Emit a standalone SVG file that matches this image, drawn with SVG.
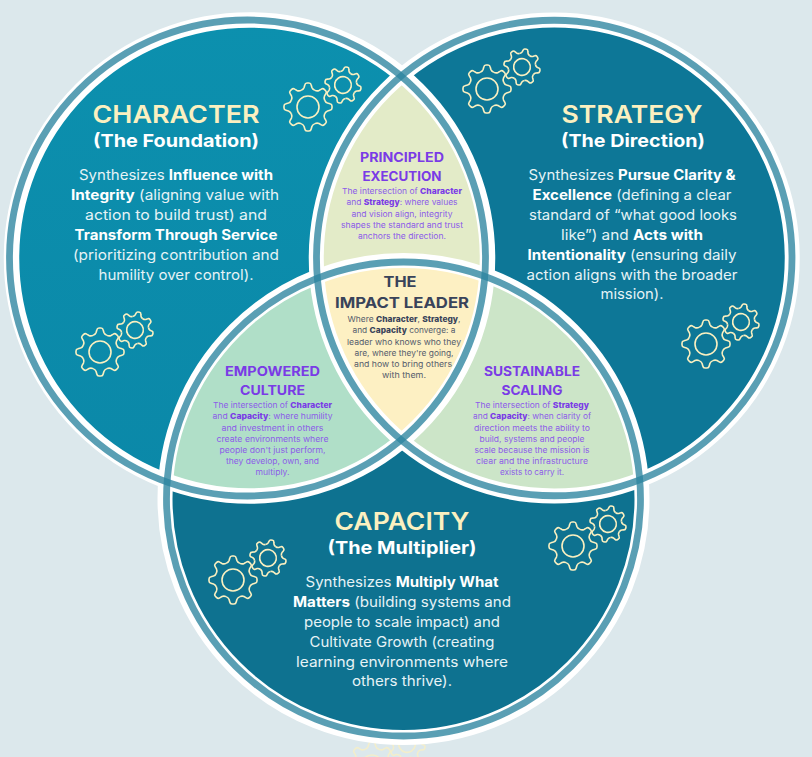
<svg xmlns="http://www.w3.org/2000/svg" width="812" height="757" viewBox="0 0 812 757">
<style>
text{font-family:Inter,"Liberation Sans",sans-serif;text-anchor:middle}
.h{font-size:24.5px;font-weight:600;fill:#fbf0c0}
.s{font-size:18px;font-weight:700;fill:#fff}
.b{font-size:14.2px;font-weight:400;fill:#e6f3f6}
.b tspan{font-weight:700;fill:#fff}
.lh{font-size:13px;font-weight:700;fill:#7a3be6}
.lb{font-size:8.1px;font-weight:400;fill:#8c5ce8}
.lb tspan{font-weight:800;fill:#7a3be6}
.ch{font-size:15px;font-weight:700;fill:#39435a}
.cb{font-size:8.1px;font-weight:400;fill:#555c6c}
.cb tspan{font-weight:800;fill:#39435a}
.tooth,.hub{fill:none;stroke:#fbf0c0;stroke-width:1.6;vector-effect:non-scaling-stroke}
.halo{fill:none;stroke:#fff;stroke-width:15}
.ring{fill:none;stroke:#2c849f;stroke-opacity:.78;stroke-width:6.8}
</style>
<defs>
<path id="t" class="tooth" d="M-6.89 -16.63Q-4.5 -17.6 -3.9 -19.5L-3.2 -22Q-2.8 -24 -1 -24L1 -24Q2.8 -24 3.2 -22L3.9 -19.5Q4.5 -17.6 6.89 -16.63"/>
<g id="gear">
<use href="#t"/><use href="#t" transform="rotate(45)"/><use href="#t" transform="rotate(90)"/><use href="#t" transform="rotate(135)"/><use href="#t" transform="rotate(180)"/><use href="#t" transform="rotate(225)"/><use href="#t" transform="rotate(270)"/><use href="#t" transform="rotate(315)"/>
<circle class="hub" r="11"/>
</g>
<g id="pair">
<use href="#gear"/>
<use href="#gear" transform="translate(35 -22) scale(.76) rotate(12)"/>
</g>
<clipPath id="cA"><circle cx="248.500" cy="258" r="233"/></clipPath>
<clipPath id="cB"><circle cx="554.250" cy="258" r="233"/></clipPath>
<clipPath id="cC"><circle cx="403.500" cy="499" r="233"/></clipPath>
<linearGradient id="ga" x1="0" y1="0" x2="0" y2="1"><stop offset="0" stop-color="#0c90ae"/><stop offset="1" stop-color="#0b88a8"/></linearGradient>
</defs>
<rect width="812" height="757" fill="#dce8ec"/>
<g id="hidden-gears" opacity=".75"><use href="#pair" transform="translate(372 766)"/></g>
<g id="regions">
<circle cx="249.500" cy="258" r="238" fill="url(#ga)"/>
<circle cx="554.250" cy="258" r="238" fill="#0d7797"/>
<circle cx="403.500" cy="499" r="238.500" fill="#0e7290"/>
<g clip-path="url(#cA)"><circle id="lens-top" cx="554.250" cy="258" r="233" fill="#e3ebc8"/></g>
<g clip-path="url(#cA)"><circle id="lens-left" cx="403.500" cy="499" r="233" fill="#b0dfc8"/></g>
<g clip-path="url(#cB)"><circle id="lens-right" cx="403.500" cy="499" r="233" fill="#cce5c8"/></g>
<g clip-path="url(#cA)"><g clip-path="url(#cB)"><circle id="lens-center" cx="403.500" cy="499" r="233" fill="#fdf0c3"/></g></g>
</g>
<g id="halos">
<circle class="halo" cx="249.500" cy="258" r="238" style="stroke-width:15.500"/>
<circle class="halo" cx="554.250" cy="258" r="238"/>
<circle class="halo" cx="403.500" cy="499" r="238.500"/>
</g>
<g id="rings">
<circle class="ring" cx="247.500" cy="258" r="238"/>
<circle class="ring" cx="554.250" cy="258" r="237.750"/>
<circle class="ring" cx="403.500" cy="499" r="237"/>
</g>
<g id="gears">
<use href="#pair" transform="translate(308 107)"/>
<use href="#pair" transform="translate(487 89)"/>
<use href="#pair" transform="translate(100 352)"/>
<use href="#pair" transform="translate(706 344)"/>
<use href="#pair" transform="translate(573 546)"/>
<use href="#pair" transform="translate(233 580)"/>
</g>
<g id="character">
<text class="h" x="176" y="123" textLength="167" lengthAdjust="spacingAndGlyphs">CHARACTER</text>
<text class="s" x="176" y="147" textLength="166" lengthAdjust="spacingAndGlyphs">(The Foundation)</text>
<text class="b" x="176" y="180" textLength="194" lengthAdjust="spacingAndGlyphs">Synthesizes <tspan>Influence with</tspan></text>
<text class="b" x="175" y="200" textLength="208" lengthAdjust="spacingAndGlyphs"><tspan>Integrity</tspan> (aligning value with</text>
<text class="b" x="176" y="220" textLength="182" lengthAdjust="spacingAndGlyphs">action to build trust) and</text>
<text class="b" x="176" y="240" textLength="203" lengthAdjust="spacingAndGlyphs"><tspan>Transform Through Service</tspan></text>
<text class="b" x="176" y="260" textLength="206" lengthAdjust="spacingAndGlyphs">(prioritizing contribution and</text>
<text class="b" x="176" y="280" textLength="155" lengthAdjust="spacingAndGlyphs">humility over control).</text>
</g>
<g id="strategy">
<text class="h" x="632" y="123" textLength="141" lengthAdjust="spacingAndGlyphs">STRATEGY</text>
<text class="s" x="633" y="147" textLength="144" lengthAdjust="spacingAndGlyphs">(The Direction)</text>
<text class="b" x="632" y="180" textLength="207" lengthAdjust="spacingAndGlyphs">Synthesizes <tspan>Pursue Clarity &amp;</tspan></text>
<text class="b" x="632" y="200" textLength="199" lengthAdjust="spacingAndGlyphs"><tspan>Excellence</tspan> (defining a clear</text>
<text class="b" x="633" y="220" textLength="208" lengthAdjust="spacingAndGlyphs">standard of “what good looks</text>
<text class="b" x="632" y="240" textLength="142" lengthAdjust="spacingAndGlyphs">like”) and <tspan>Acts with</tspan></text>
<text class="b" x="632" y="260" textLength="209" lengthAdjust="spacingAndGlyphs"><tspan>Intentionality</tspan> (ensuring daily</text>
<text class="b" x="632" y="280" textLength="211" lengthAdjust="spacingAndGlyphs">action aligns with the broader</text>
<text class="b" x="632" y="299" textLength="63" lengthAdjust="spacingAndGlyphs">mission).</text>
</g>
<g id="capacity">
<text class="h" x="402" y="530" textLength="135" lengthAdjust="spacingAndGlyphs">CAPACITY</text>
<text class="s" x="402" y="554" textLength="149" lengthAdjust="spacingAndGlyphs">(The Multiplier)</text>
<text class="b" x="402" y="587" textLength="193" lengthAdjust="spacingAndGlyphs">Synthesizes <tspan>Multiply What</tspan></text>
<text class="b" x="402" y="607" textLength="218" lengthAdjust="spacingAndGlyphs"><tspan>Matters</tspan> (building systems and</text>
<text class="b" x="402" y="627" textLength="196" lengthAdjust="spacingAndGlyphs">people to scale impact) and</text>
<text class="b" x="402" y="647" textLength="185" lengthAdjust="spacingAndGlyphs">Cultivate Growth (creating</text>
<text class="b" x="402" y="667" textLength="212" lengthAdjust="spacingAndGlyphs">learning environments where</text>
<text class="b" x="402" y="686" textLength="100" lengthAdjust="spacingAndGlyphs">others thrive).</text>
</g>
<g id="principled-execution">
<text class="lh" x="402" y="162" textLength="84" lengthAdjust="spacingAndGlyphs">PRINCIPLED</text>
<text class="lh" x="402" y="181" textLength="79" lengthAdjust="spacingAndGlyphs">EXECUTION</text>
<text class="lb" x="402" y="194" textLength="120" lengthAdjust="spacingAndGlyphs">The intersection of <tspan>Character</tspan></text>
<text class="lb" x="402" y="205" textLength="111" lengthAdjust="spacingAndGlyphs">and <tspan>Strategy</tspan>: where values</text>
<text class="lb" x="402" y="217" textLength="101" lengthAdjust="spacingAndGlyphs">and vision align, integrity</text>
<text class="lb" x="402" y="228" textLength="122" lengthAdjust="spacingAndGlyphs">shapes the standard and trust</text>
<text class="lb" x="402" y="239" textLength="88" lengthAdjust="spacingAndGlyphs">anchors the direction.</text>
</g>
<g id="impact-leader">
<text class="ch" x="400" y="287" textLength="33" lengthAdjust="spacingAndGlyphs">THE</text>
<text class="ch" x="402" y="308" textLength="134" lengthAdjust="spacingAndGlyphs">IMPACT LEADER</text>
<text class="cb" x="404" y="322" textLength="113" lengthAdjust="spacingAndGlyphs">Where <tspan>Character</tspan>, <tspan>Strategy</tspan>,</text>
<text class="cb" x="404" y="333" textLength="103" lengthAdjust="spacingAndGlyphs">and <tspan>Capacity</tspan> converge: a</text>
<text class="cb" x="404" y="345" textLength="114" lengthAdjust="spacingAndGlyphs">leader who knows who they</text>
<text class="cb" x="404" y="356" textLength="99" lengthAdjust="spacingAndGlyphs">are, where they're going,</text>
<text class="cb" x="403" y="367" textLength="98" lengthAdjust="spacingAndGlyphs">and how to bring others</text>
<text class="cb" x="404" y="378" textLength="44" lengthAdjust="spacingAndGlyphs">with them.</text>
</g>
<g id="empowered-culture">
<text class="lh" x="272.500" y="376" textLength="95" lengthAdjust="spacingAndGlyphs">EMPOWERED</text>
<text class="lh" x="272.500" y="395" textLength="65" lengthAdjust="spacingAndGlyphs">CULTURE</text>
<text class="lb" x="272.500" y="408" textLength="119" lengthAdjust="spacingAndGlyphs">The intersection of <tspan>Character</tspan></text>
<text class="lb" x="272.500" y="419" textLength="120" lengthAdjust="spacingAndGlyphs">and <tspan>Capacity</tspan>: where humility</text>
<text class="lb" x="272.500" y="431" textLength="102" lengthAdjust="spacingAndGlyphs">and investment in others</text>
<text class="lb" x="272.500" y="442" textLength="112" lengthAdjust="spacingAndGlyphs">create environments where</text>
<text class="lb" x="272.500" y="453" textLength="106" lengthAdjust="spacingAndGlyphs">people don't just perform,</text>
<text class="lb" x="272.500" y="464" textLength="93" lengthAdjust="spacingAndGlyphs">they develop, own, and</text>
<text class="lb" x="272.500" y="475" textLength="34" lengthAdjust="spacingAndGlyphs">multiply.</text>
</g>
<g id="sustainable-scaling">
<text class="lh" x="532" y="376" textLength="96" lengthAdjust="spacingAndGlyphs">SUSTAINABLE</text>
<text class="lh" x="532" y="395" textLength="61" lengthAdjust="spacingAndGlyphs">SCALING</text>
<text class="lb" x="532" y="408" textLength="114" lengthAdjust="spacingAndGlyphs">The intersection of <tspan>Strategy</tspan></text>
<text class="lb" x="532" y="419" textLength="118" lengthAdjust="spacingAndGlyphs">and <tspan>Capacity</tspan>: when clarity of</text>
<text class="lb" x="532" y="431" textLength="116" lengthAdjust="spacingAndGlyphs">direction meets the ability to</text>
<text class="lb" x="532" y="442" textLength="105" lengthAdjust="spacingAndGlyphs">build, systems and people</text>
<text class="lb" x="532" y="453" textLength="115" lengthAdjust="spacingAndGlyphs">scale because the mission is</text>
<text class="lb" x="532" y="464" textLength="112" lengthAdjust="spacingAndGlyphs">clear and the infrastructure</text>
<text class="lb" x="532" y="475" textLength="64" lengthAdjust="spacingAndGlyphs">exists to carry it.</text>
</g>
</svg>
